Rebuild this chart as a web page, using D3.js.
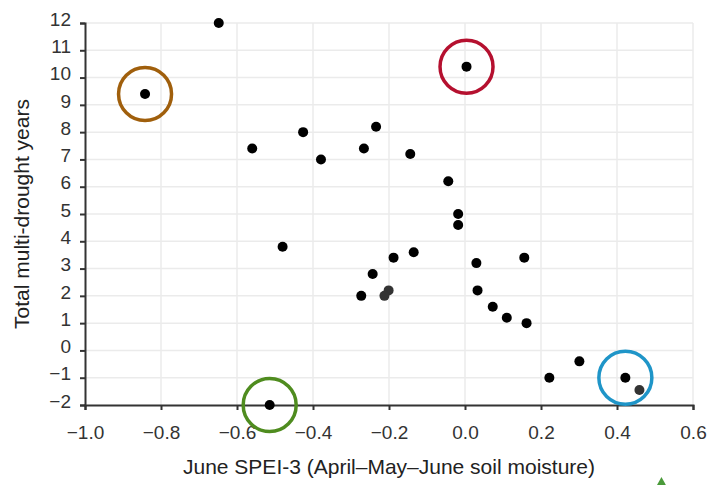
<!DOCTYPE html>
<html>
<head>
<meta charset="utf-8">
<script src="https://cdn.jsdelivr.net/npm/d3@7"></script>
<style>
  body { margin: 0; background: #fff; }
  svg { display: block; font-family: "Liberation Sans", Arial, sans-serif; }
</style>
</head>
<body>
<svg id="chart"></svg>
<script>
const width = 708;
const height = 485;

// June SPEI-3 (x) vs total multi-drought years (y)
const speiValues = [-0.648, -0.842, 0.004, -0.560, -0.426, -0.379, -0.266, -0.234, -0.144, -0.044,
  -0.018, -0.018, -0.480, -0.188, -0.135, -0.243, -0.273, -0.201, -0.212, 0.030,
  0.033, 0.156, 0.073, 0.110, 0.162, 0.301, 0.222, 0.422, 0.459, -0.514];
const droughtYears = [12.0, 9.4, 10.4, 7.4, 8.0, 7.0, 7.4, 8.2, 7.2, 6.2,
  5.0, 4.6, 3.8, 3.4, 3.6, 2.8, 2.0, 2.2, 2.0, 3.2,
  2.2, 3.4, 1.6, 1.2, 1.0, -0.4, -1.0, -1.0, -1.45, -2.0];

// circled sites
const highlightIndex = [1, 2, 29, 27];
const highlightColors = ["#a05f0c", "#b5102f", "#4f8c1f", "#1f95c8"];

const xTicks = [-1.0, -0.8, -0.6, -0.4, -0.2, 0.0, 0.2, 0.4, 0.6];
const yTicks = [-2, -1, 0, 1, 2, 3, 4, 5, 6, 7, 8, 9, 10, 11, 12];

// points drawn slightly lighter in the original
const fadedPoints = [17, 18, 28];

const margin = { top: 23, right: 15, bottom: 80, left: 85 };

const x = d3.scaleLinear().domain([-1.0, 0.6]).range([margin.left, width - margin.right]);
const y = d3.scaleLinear().domain([-2, 12]).range([height - margin.bottom, margin.top]);

const svg = d3.select("#chart").attr("width", width).attr("height", height);

// grid
svg.append("g")
  .attr("stroke", "#ebebeb")
  .attr("stroke-width", 1.5)
  .selectAll("line.h")
  .data(yTicks.slice(1))
  .enter()
  .append("line")
  .attr("x1", margin.left)
  .attr("x2", width - margin.right)
  .attr("y1", d => y(d))
  .attr("y2", d => y(d));

svg.append("g")
  .attr("stroke", "#ebebeb")
  .attr("stroke-width", 1.5)
  .selectAll("line.v")
  .data(xTicks.slice(1))
  .enter()
  .append("line")
  .attr("x1", d => x(d))
  .attr("x2", d => x(d))
  .attr("y1", margin.top)
  .attr("y2", height - margin.bottom);

// axes
const xAxis = svg.append("g")
  .attr("transform", `translate(0,${height - margin.bottom})`)
  .call(d3.axisBottom(x).tickValues(xTicks).tickSize(5).tickPadding(16)
    .tickFormat(d => d3.format(".1f")(d).replace("-", "\u2212")));

const yAxis = svg.append("g")
  .attr("transform", `translate(${margin.left},0)`)
  .call(d3.axisLeft(y).tickValues(yTicks).tickSize(5).tickPadding(9)
    .tickFormat(d => String(d).replace("-", "\u2212")));

[xAxis, yAxis].forEach(g => {
  g.select(".domain").attr("stroke", "#333").attr("stroke-width", 2);
  g.selectAll(".tick line").attr("stroke", "#333").attr("stroke-width", 2);
  g.selectAll(".tick text")
    .attr("fill", "#333")
    .style("font-size", "19px")
    .style("font-family", "'Liberation Sans', Arial, sans-serif");
});
yAxis.selectAll(".tick text").attr("dy", "0.12em");

// axis titles
svg.append("text")
  .attr("x", (margin.left + width - margin.right) / 2)
  .attr("y", 474)
  .attr("text-anchor", "middle")
  .attr("fill", "#222")
  .style("font-size", "21px")
  .text("June SPEI-3 (April\u2013May\u2013June soil moisture)");

svg.append("text")
  .attr("transform", `translate(29,${(margin.top + height - margin.bottom) / 2}) rotate(-90)`)
  .attr("text-anchor", "middle")
  .attr("fill", "#222")
  .style("font-size", "21px")
  .text("Total multi-drought years");

// points
svg.append("g")
  .selectAll("circle")
  .data(speiValues.map((v, i) => ({ x: v, y: droughtYears[i], i: i })))
  .enter()
  .append("circle")
  .attr("cx", d => x(d.x))
  .attr("cy", d => y(d.y))
  .attr("r", 5)
  .attr("fill", d => fadedPoints.includes(d.i) ? "#333" : "#000");

// highlight rings
svg.append("g")
  .attr("fill", "none")
  .attr("stroke-width", 3.5)
  .selectAll("circle")
  .data(highlightIndex)
  .enter()
  .append("circle")
  .attr("cx", d => x(speiValues[d]))
  .attr("cy", d => y(droughtYears[d]))
  .attr("r", 26.5)
  .attr("stroke", (d, k) => highlightColors[k]);

// small green marker cut off at the bottom edge
svg.append("path")
  .attr("d", `M${x(0.517)},${height - 8} l5,9 l-10,0 z`)
  .attr("fill", "#4a9a3a");
</script>
</body>
</html>
